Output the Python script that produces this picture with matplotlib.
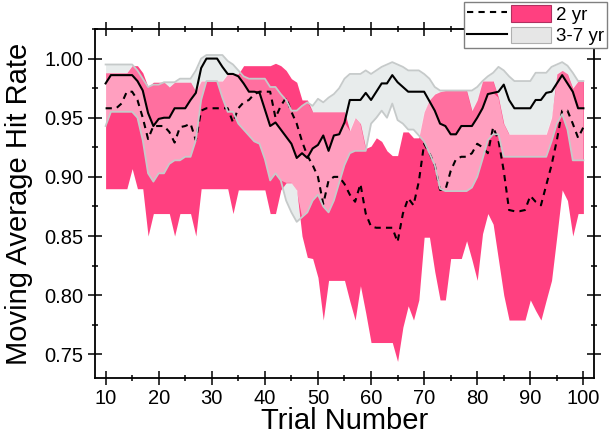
import numpy as np
import matplotlib.pyplot as plt
from matplotlib.lines import Line2D
from matplotlib.patches import Patch
from matplotlib.legend_handler import HandlerTuple
from matplotlib.ticker import MultipleLocator

plt.rcParams['font.family'] = ['Liberation Sans', 'DejaVu Sans']

trials = np.arange(10, 101)

# 2 yr group: mean and band (t = 10..100)
mean_2yr = [0.958, 0.958, 0.958, 0.962, 0.972, 0.972, 0.965, 0.950, 0.932, 0.943,
            0.943, 0.943, 0.938, 0.929, 0.942, 0.943, 0.945, 0.931, 0.956, 0.958,
            0.958, 0.958, 0.958, 0.958, 0.946, 0.958, 0.963, 0.965, 0.970, 0.972,
            0.972, 0.972, 0.950, 0.960, 0.967, 0.955, 0.945, 0.930, 0.918, 0.910,
            0.900, 0.877, 0.897, 0.900, 0.900, 0.894, 0.885, 0.879, 0.894, 0.869,
            0.858, 0.857, 0.857, 0.857, 0.857, 0.845, 0.869, 0.882, 0.876, 0.896,
            0.928, 0.920, 0.910, 0.889, 0.889, 0.905, 0.915, 0.917, 0.917, 0.920,
            0.928, 0.925, 0.920, 0.942, 0.931, 0.905, 0.872, 0.871, 0.871, 0.872,
            0.884, 0.879, 0.876, 0.893, 0.910, 0.931, 0.956, 0.956, 0.945, 0.933,
            0.942]
upper_2yr = [0.988, 0.988, 0.988, 0.988, 0.988, 0.994, 0.994, 0.988, 0.976, 0.980,
             0.980, 0.980, 0.976, 0.980, 0.980, 0.980, 0.980, 0.972, 0.981, 0.981,
             0.981, 0.981, 0.981, 0.987, 0.987, 0.987, 0.994, 0.994, 0.994, 0.994,
             0.994, 0.994, 0.996, 0.994, 0.990, 0.983, 0.980, 0.965, 0.965, 0.955,
             0.955, 0.955, 0.955, 0.955, 0.955, 0.955, 0.939, 0.950, 0.945, 0.924,
             0.926, 0.933, 0.930, 0.922, 0.918, 0.918, 0.938, 0.938, 0.933, 0.933,
             0.955, 0.965, 0.970, 0.972, 0.973, 0.973, 0.973, 0.973, 0.973, 0.956,
             0.965, 0.981, 0.981, 0.981, 0.967, 0.945, 0.936, 0.936, 0.936, 0.936,
             0.936, 0.936, 0.936, 0.936, 0.950, 0.987, 0.990, 0.987, 0.975, 0.981,
             0.981]
lower_2yr = [0.890, 0.890, 0.890, 0.890, 0.890, 0.907, 0.890, 0.890, 0.850, 0.869,
             0.869, 0.869, 0.869, 0.850, 0.869, 0.869, 0.869, 0.850, 0.890, 0.890,
             0.890, 0.890, 0.890, 0.890, 0.869, 0.889, 0.889, 0.889, 0.889, 0.889,
             0.889, 0.869, 0.869, 0.889, 0.895, 0.895, 0.889, 0.850, 0.832, 0.831,
             0.815, 0.779, 0.8125, 0.8125, 0.8125, 0.8125, 0.795, 0.779, 0.808, 0.785,
             0.760, 0.760, 0.760, 0.760, 0.760, 0.744, 0.773, 0.791, 0.779, 0.796,
             0.849, 0.849, 0.820, 0.796, 0.796, 0.831, 0.831, 0.831, 0.846, 0.830,
             0.8125, 0.852, 0.869, 0.860, 0.830, 0.800, 0.779, 0.779, 0.779, 0.779,
             0.796, 0.787, 0.779, 0.796, 0.8125, 0.850, 0.889, 0.880, 0.850, 0.869,
             0.869]

# 3-7 yr group
mean_37yr = [0.979, 0.986, 0.986, 0.986, 0.986, 0.986, 0.981, 0.973, 0.954, 0.943,
             0.949, 0.950, 0.950, 0.958, 0.958, 0.958, 0.965, 0.971, 0.992, 1.000,
             1.000, 1.000, 0.993, 0.987, 0.987, 0.985, 0.979, 0.972, 0.972, 0.971,
             0.957, 0.943, 0.946, 0.940, 0.934, 0.928, 0.916, 0.920, 0.916, 0.924,
             0.927, 0.935, 0.922, 0.935, 0.936, 0.946, 0.965, 0.965, 0.965, 0.971,
             0.965, 0.972, 0.979, 0.979, 0.986, 0.980, 0.976, 0.972, 0.972, 0.972,
             0.972, 0.964, 0.956, 0.945, 0.943, 0.936, 0.936, 0.943, 0.943, 0.943,
             0.950, 0.958, 0.970, 0.971, 0.972, 0.978, 0.965, 0.958, 0.958, 0.958,
             0.958, 0.965, 0.965, 0.971, 0.972, 0.979, 0.986, 0.979, 0.972, 0.958,
             0.958]
upper_37yr = [0.995, 0.995, 0.995, 0.995, 0.995, 0.995, 0.990, 0.983, 0.976, 0.978,
              0.978, 0.980, 0.980, 0.980, 0.983, 0.983, 0.983, 0.990, 1.000, 1.003,
              1.003, 1.003, 1.003, 0.998, 0.995, 0.990, 0.985, 0.983, 0.983, 0.983,
              0.983, 0.976, 0.976, 0.970, 0.965, 0.956, 0.956, 0.960, 0.963, 0.960,
              0.966, 0.963, 0.967, 0.970, 0.975, 0.983, 0.987, 0.987, 0.987, 0.990,
              0.987, 0.990, 0.993, 0.995, 0.997, 0.995, 0.993, 0.990, 0.990, 0.990,
              0.987, 0.983, 0.976, 0.973, 0.973, 0.973, 0.973, 0.973, 0.973, 0.973,
              0.976, 0.981, 0.985, 0.988, 0.993, 0.990, 0.985, 0.981, 0.981, 0.981,
              0.981, 0.988, 0.988, 0.988, 0.993, 0.995, 0.997, 0.994, 0.988, 0.981,
              0.981]
lower_37yr = [0.943, 0.955, 0.955, 0.955, 0.955, 0.955, 0.950, 0.931, 0.903, 0.896,
              0.903, 0.903, 0.911, 0.914, 0.914, 0.917, 0.917, 0.931, 0.965, 0.981,
              0.981, 0.981, 0.967, 0.955, 0.955, 0.945, 0.940, 0.935, 0.930, 0.928,
              0.915, 0.897, 0.903, 0.897, 0.880, 0.870, 0.862, 0.866, 0.870, 0.880,
              0.885, 0.875, 0.870, 0.880, 0.895, 0.910, 0.920, 0.922, 0.922, 0.922,
              0.945, 0.950, 0.956, 0.950, 0.962, 0.948, 0.945, 0.940, 0.940, 0.935,
              0.930, 0.920, 0.910, 0.890, 0.888, 0.888, 0.888, 0.888, 0.888, 0.891,
              0.900, 0.915, 0.931, 0.936, 0.936, 0.917, 0.917, 0.917, 0.917, 0.917,
              0.917, 0.917, 0.917, 0.917, 0.930, 0.945, 0.953, 0.940, 0.914, 0.914,
              0.914]

pink = '#ff4080'
grey = '#e8ecec'
edge = '#c6caca'

lo2, hi2 = np.array(lower_2yr), np.array(upper_2yr)
lo3, mid3, hi3 = np.array(lower_37yr), np.array(mean_37yr), np.array(upper_37yr)

fig = plt.figure(figsize=(6.1, 4.44), dpi=100)
ax = fig.add_axes([0.1557, 0.1486, 0.8181, 0.7861])

# grey band underneath, pink band on top, then a whitish veil where the two overlap
ax.fill_between(trials, lo3, hi3, color=grey, lw=0)
ax.fill_between(trials, lo2, hi2, color=pink, lw=0)
ax.plot(trials, mean_2yr, color='black', lw=1.5, ls=(0, (3, 2.5)))

b1, t1 = np.maximum(lo3, lo2), np.minimum(mid3, hi2)
ax.fill_between(trials, b1, t1, where=t1 > b1, interpolate=True,
                color='white', alpha=0.5, lw=0)
b2, t2 = np.maximum(mid3, lo2), np.minimum(hi3, hi2)
ax.fill_between(trials, b2, t2, where=t2 > b2, interpolate=True,
                color='white', alpha=0.25, lw=0)

ax.plot(trials, upper_37yr, color=edge, lw=1.3)
ax.plot(trials, lower_37yr, color=edge, lw=1.3)
ax.plot(trials, mean_37yr, color='black', lw=1.5)

ax.set_xlim(8, 102)
ax.set_ylim(0.73, 1.025)
ax.xaxis.set_major_locator(MultipleLocator(10))
ax.xaxis.set_minor_locator(MultipleLocator(5))
ax.yaxis.set_major_locator(MultipleLocator(0.05))
ax.yaxis.set_minor_locator(MultipleLocator(0.025))
ax.tick_params(which='both', direction='inout', top=True, right=True,
               labelsize=14.5, width=1.1, color='black')
ax.tick_params(which='major', length=9.5)
ax.tick_params(which='minor', length=5)
for s in ax.spines.values():
    s.set_linewidth(1.3)

ax.set_xlabel('Trial Number', fontsize=21, labelpad=-1)
ax.set_ylabel('Moving Average Hit Rate', fontsize=21, labelpad=8)

h1 = (Line2D([], [], color='black', lw=1.5, ls=(0, (3, 2.5))),
      Patch(facecolor=pink, edgecolor='#b03060', lw=0.8))
h2 = (Line2D([], [], color='black', lw=1.5),
      Patch(facecolor='#e6e6e6', edgecolor='#b0b0b0', lw=0.8))
leg = fig.legend([h1, h2], ['2 yr', '3-7 yr'], loc='upper right',
                 bbox_to_anchor=(0.995, 0.995), fontsize=13.5,
                 handler_map={tuple: HandlerTuple(ndivide=None, pad=0.2)},
                 handlelength=4.5, handleheight=1.0, handletextpad=0.25,
                 labelspacing=0.15, borderpad=0.15, borderaxespad=0,
                 fancybox=False, framealpha=1, edgecolor='#808080')
leg.get_frame().set_linewidth(1.0)

fig.savefig('out.png', dpi=100)
